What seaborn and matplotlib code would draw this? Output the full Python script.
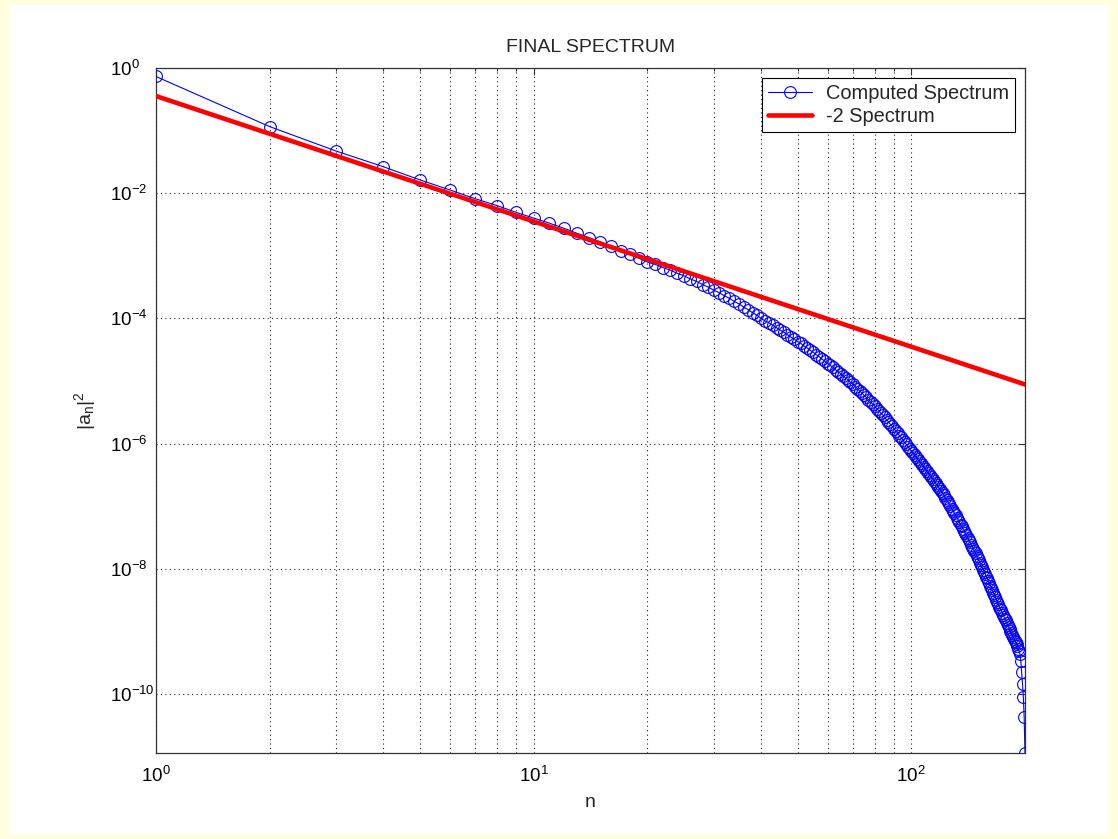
import matplotlib
matplotlib.use("Agg")
import matplotlib.pyplot as plt
import matplotlib.ticker as ticker
from matplotlib.patches import Rectangle
import numpy as np
import pandas as pd
import seaborn as sns

# log10 |a_n|^2, n = 1..200
log_spectrum = [
    -0.14, -0.94, -1.33, -1.58, -1.79, -1.95, -2.09, -2.20, -2.31, -2.40,
    -2.48, -2.56, -2.64, -2.71, -2.78, -2.85, -2.92, -2.98, -3.04, -3.10,
    -3.14, -3.19, -3.23, -3.28, -3.32, -3.37, -3.41, -3.46, -3.50, -3.55,
    -3.59, -3.64, -3.68, -3.73, -3.77, -3.82, -3.86, -3.91, -3.95, -4.00,
    -4.04, -4.07, -4.11, -4.15, -4.19, -4.22, -4.26, -4.30, -4.33, -4.37,
    -4.40, -4.44, -4.47, -4.51, -4.54, -4.58, -4.61, -4.65, -4.68, -4.72,
    -4.75, -4.78, -4.82, -4.85, -4.88, -4.92, -4.95, -4.98, -5.02, -5.05,
    -5.09, -5.12, -5.16, -5.19, -5.23, -5.26, -5.30, -5.33, -5.37, -5.40,
    -5.44, -5.47, -5.51, -5.54, -5.58, -5.62, -5.65, -5.69, -5.72, -5.76,
    -5.80, -5.83, -5.87, -5.90, -5.94, -5.98, -6.01, -6.05, -6.08, -6.12,
    -6.15, -6.18, -6.21, -6.25, -6.28, -6.31, -6.34, -6.37, -6.40, -6.44,
    -6.47, -6.50, -6.53, -6.56, -6.59, -6.63, -6.66, -6.69, -6.72, -6.75,
    -6.79, -6.82, -6.86, -6.89, -6.93, -6.96, -7.00, -7.04, -7.07, -7.11,
    -7.14, -7.18, -7.21, -7.25, -7.29, -7.32, -7.36, -7.39, -7.43, -7.46,
    -7.50, -7.54, -7.57, -7.61, -7.64, -7.68, -7.71, -7.75, -7.79, -7.82,
    -7.86, -7.90, -7.93, -7.97, -8.01, -8.04, -8.08, -8.12, -8.15, -8.19,
    -8.23, -8.27, -8.30, -8.34, -8.38, -8.41, -8.45, -8.49, -8.52, -8.56,
    -8.60, -8.63, -8.66, -8.70, -8.73, -8.76, -8.79, -8.82, -8.86, -8.89,
    -8.92, -8.95, -8.98, -9.02, -9.05, -9.08, -9.11, -9.14, -9.17, -9.20,
    -9.23, -9.27, -9.31, -9.36, -9.47, -9.64, -9.83, -10.04, -10.36, -10.94,
]
modes = list(range(1, len(log_spectrum) + 1))

# the -2 reference line, end points
ref_n = [1, 200]
ref_val = [0.353, 8.83e-6]

y_ticks = [1e0, 1e-2, 1e-4, 1e-6, 1e-8, 1e-10]

df = pd.DataFrame({"n": modes, "a2": 10.0 ** np.array(log_spectrum)})
ref = pd.DataFrame({"n": ref_n, "a2": ref_val})

sns.set_style("white")
plt.rcParams["font.family"] = ["Liberation Sans", "DejaVu Sans"]
plt.rcParams["mathtext.fontset"] = "custom"
plt.rcParams["mathtext.rm"] = "Liberation Sans"
plt.rcParams["mathtext.it"] = "Liberation Sans:italic"
plt.rcParams["axes.unicode_minus"] = False

fig = plt.figure(figsize=(11.18, 8.39), dpi=100, facecolor="#FFFFE0")
# white page inside a thin yellow frame
fig.patches.append(Rectangle((10 / 1118, 5 / 839), 1098 / 1118, 829 / 839,
                             transform=fig.transFigure, facecolor="white",
                             edgecolor="none", zorder=-10))
ax = fig.add_axes([0.1395, 0.1021, 0.7773, 0.8172])

sns.lineplot(data=df, x="n", y="a2", ax=ax, color="blue", linewidth=0.8,
             marker="o", markersize=8.5, markerfacecolor="none",
             markeredgecolor="blue", markeredgewidth=0.8,
             label="Computed Spectrum", zorder=3)
sns.lineplot(data=ref, x="n", y="a2", ax=ax, color="red", linewidth=3.3,
             label="-2 Spectrum", zorder=4)

ax.set_xscale("log")
ax.set_yscale("log")
ax.set_xlim(1, 200)
ax.set_ylim(df["a2"].min(), 1)

ax.set_yticks(y_ticks)
ax.yaxis.set_minor_locator(ticker.NullLocator())
ax.xaxis.set_major_locator(ticker.LogLocator(base=10))
ax.xaxis.set_minor_locator(ticker.LogLocator(base=10, subs=np.arange(2, 10)))
ax.xaxis.set_minor_formatter(ticker.NullFormatter())

ax.grid(which="major", axis="both", color="#222222", linestyle=(0, (1, 3)), linewidth=0.8)
ax.grid(which="minor", axis="x", color="#222222", linestyle=(0, (1, 3)), linewidth=0.8)

ax.tick_params(which="both", direction="in", top=True, right=True,
               colors="#333333", labelcolor="black", labelsize=13.5)
ax.tick_params(which="major", length=5, width=0.8)
ax.tick_params(which="minor", length=2.5, width=0.8)
# MATLAB lines up the "10" of every y label, exponent sticks out to the right
ax.tick_params(axis="y", pad=33)
for lab in ax.get_yticklabels():
    lab.set_horizontalalignment("left")
ax.tick_params(axis="x", pad=9)
for s in ax.spines.values():
    s.set_color("#333333")
    s.set_linewidth(0.9)

ax.set_title("FINAL SPECTRUM", fontsize=14, pad=11)
ax.set_xlabel("n", fontsize=14, labelpad=6)
ax.set_ylabel(r"$\mathregular{|a_n|^2}$", fontsize=14, labelpad=9)

leg = ax.legend(loc="upper right", fontsize=14.4, frameon=True, fancybox=False,
                framealpha=1, edgecolor="black", borderaxespad=0.5,
                labelspacing=0.2, handlelength=2.2, handletextpad=0.7,
                borderpad=0.3)
leg.get_frame().set_linewidth(0.8)

fig.savefig("out.png", dpi=100, facecolor=fig.get_facecolor())
